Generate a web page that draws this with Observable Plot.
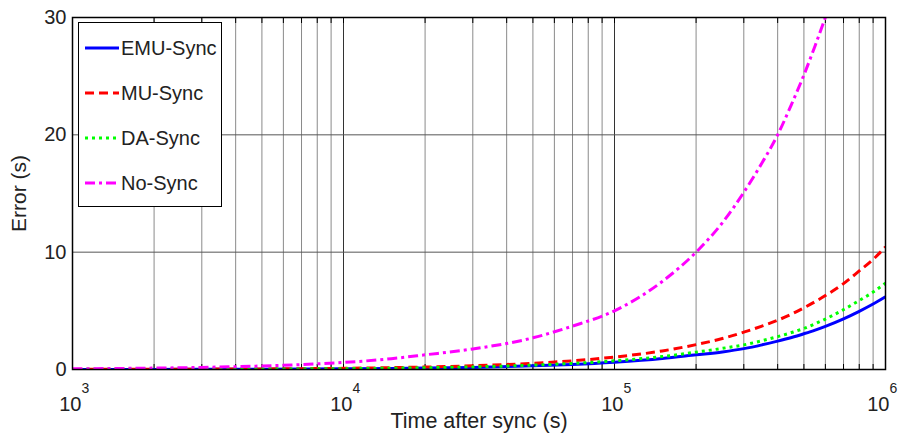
<!DOCTYPE html>
<html>
<head>
<meta charset="utf-8">
<script src="https://cdn.jsdelivr.net/npm/d3@7"></script>
<script src="https://cdn.jsdelivr.net/npm/@observablehq/plot@0.6"></script>
<style>
  html, body { margin: 0; padding: 0; background: white; overflow: hidden; }
  #wrap { position: relative; width: 898px; height: 434px; }
  #legend { position: absolute; left: 78px; top: 22px; width: 142px; height: 183px;
    border: 1.5px solid #000; background: white; font-family: "Liberation Sans", Arial, sans-serif;
    font-size: 20px; color: #222; }
  .row { position: absolute; left: 6px; height: 24px; display: flex; align-items: center; }
  .row svg { width: 34px; height: 10px; margin-right: 2px; }
</style>
</head>
<body>
<div id="wrap"><div id="chart"></div><div id="legend"></div></div>
<script>
// Time after sync (s)
const times = [1e3, 2e3, 3e3, 5e3, 7e3, 1e4, 1.5e4, 2e4, 3e4, 5e4, 7e4, 1e5, 1.5e5, 2e5, 2.5e5, 3e5, 3.5e5, 4e5, 4.5e5, 5e5, 5.5e5, 6e5, 7e5, 8e5, 9e5, 1e6];
// Error (s)
const emuSync = [0.01, 0.01, 0.02, 0.03, 0.04, 0.06, 0.09, 0.12, 0.18, 0.31, 0.43, 0.62, 0.93, 1.25, 1.5, 1.78, 2.1, 2.42, 2.73, 3.05, 3.36, 3.68, 4.32, 4.96, 5.58, 6.2];
const muSync  = [0.01, 0.02, 0.03, 0.05, 0.07, 0.1, 0.16, 0.21, 0.32, 0.53, 0.74, 1.06, 1.58, 2.12, 2.64, 3.18, 3.7, 4.2, 4.72, 5.26, 5.78, 6.3, 7.32, 8.4, 9.38, 10.45];
const daSync  = [0.01, 0.015, 0.02, 0.035, 0.05, 0.07, 0.11, 0.15, 0.22, 0.37, 0.52, 0.74, 1.1, 1.48, 1.8, 2.1, 2.45, 2.8, 3.15, 3.5, 3.9, 4.3, 5.1, 5.88, 6.6, 7.36];
const noSync  = [0.06, 0.12, 0.18, 0.3, 0.42, 0.6, 0.92, 1.25, 1.75, 2.7, 3.7, 5.0, 7.5, 10, 12.5, 15.1, 17.6, 20, 22.6, 25.1, 27.6, 30];

const seriesNames = ["EMU-Sync", "MU-Sync", "DA-Sync", "No-Sync"];
const seriesValues = [emuSync, muSync, daSync, noSync];
const seriesColors = ["#0000ff", "#ff0000", "#00ff00", "#ff00ff"];
const seriesDash = [null, "9,5", "3,4", "10,4,3,4"];

const yTicks = [0, 10, 20, 30];
const majorTicks = [1e3, 1e4, 1e5, 1e6];
const majorExp = ["3", "4", "5", "6"];
const minorTicks = [];
for (const d of [1e3, 1e4, 1e5]) for (let k = 2; k <= 9; k++) minorTicks.push(k * d);
const innerMajor = [1e4, 1e5];
const hGrid = [10, 20];

const rows = seriesValues.map((vals, s) => vals.map((v, i) => ({t: times[i], v, s: seriesNames[s]})));

const font = "'Liberation Sans', Arial, sans-serif";
const firstTicks = majorTicks.slice(0, 3);
const lastTick = majorTicks.slice(3);
const chart = Plot.plot({
  width: 898, height: 434,
  marginLeft: 72, marginRight: 13, marginTop: 17, marginBottom: 65,
  x: {type: "log", domain: [1e3, 1e6]},
  y: {domain: [0, 30]},
  style: {fontFamily: font, fontSize: "20px", background: "white", color: "#222", overflow: "visible"},
  marks: [
    Plot.ruleX(minorTicks, {stroke: "#8a8a8a", strokeWidth: 1}),
    Plot.ruleX(innerMajor, {stroke: "#333", strokeWidth: 1}),
    Plot.ruleY(hGrid, {stroke: "#555", strokeWidth: 1}),
    Plot.axisX({ticks: minorTicks.concat(innerMajor), tickSize: -5, tickFormat: () => "", anchor: "bottom", label: null, stroke: "#000"}),
    Plot.axisX({ticks: minorTicks.concat(innerMajor), tickSize: -5, tickFormat: () => "", anchor: "top", label: null, stroke: "#000"}),
    Plot.axisY({ticks: yTicks, tickSize: 0, tickPadding: 6, label: null, fontSize: 20}),
    ...rows.map((r, s) => Plot.line(r, {x: "t", y: "v", stroke: seriesColors[s], strokeWidth: 3,
      strokeDasharray: seriesDash[s], strokeLinecap: "butt", curve: "monotone-x", clip: true})),
    Plot.frame({stroke: "#000", strokeWidth: 1.5}),
    Plot.text(firstTicks, {x: d => d, frameAnchor: "bottom", text: () => "10", textAnchor: "end",
      dx: 9, dy: 41, lineAnchor: "bottom", fontSize: 20}),
    Plot.text(firstTicks, {x: d => d, frameAnchor: "bottom", text: (d, i) => majorExp[i], textAnchor: "start",
      dx: 9, dy: 23, lineAnchor: "bottom", fontSize: 14}),
    Plot.text(lastTick, {x: d => d, frameAnchor: "bottom", text: () => "10", textAnchor: "end",
      dx: 4, dy: 41, lineAnchor: "bottom", fontSize: 20}),
    Plot.text(lastTick, {x: d => d, frameAnchor: "bottom", text: () => majorExp[3], textAnchor: "start",
      dx: 4, dy: 23, lineAnchor: "bottom", fontSize: 14}),
    Plot.text(["Time after sync (s)"], {frameAnchor: "bottom", text: d => d, dy: 58, lineAnchor: "bottom", textAnchor: "middle", fontSize: 21.5}),
    Plot.text(["Error (s)"], {frameAnchor: "left", text: d => d, dx: -53, rotate: -90, textAnchor: "middle", lineAnchor: "middle", fontSize: 21})
  ]
});
document.getElementById("chart").appendChild(chart);

const legend = document.getElementById("legend");
const rowTops = [13, 58, 103, 148];
seriesNames.forEach((name, i) => {
  const row = document.createElement("div");
  row.className = "row";
  row.style.top = rowTops[i] + "px";
  const dash = seriesDash[i] ? `stroke-dasharray="${seriesDash[i]}"` : "";
  row.innerHTML = `<svg viewBox="0 0 34 10"><line x1="0" y1="5" x2="34" y2="5" stroke="${seriesColors[i]}" stroke-width="3" ${dash}/></svg><span>${name}</span>`;
  legend.appendChild(row);
});
</script>
</body>
</html>
